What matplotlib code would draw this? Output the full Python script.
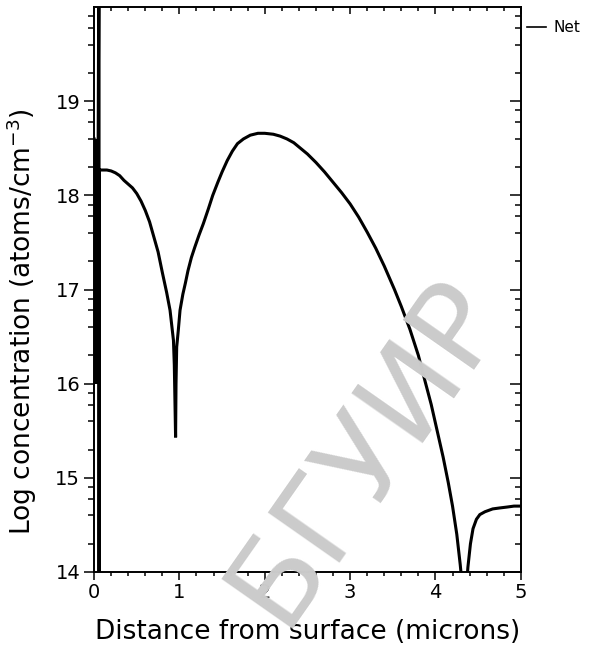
import matplotlib
matplotlib.use("Agg")
import matplotlib.pyplot as plt
from matplotlib.lines import Line2D
import numpy as np

plt.rcParams['font.family'] = ['DejaVu Sans']

# Net doping profile: depth (microns) vs log10 concentration
depth = [0.000, 0.012, 0.024, 0.036, 0.048, 0.058, 0.058, 0.060,
         0.10, 0.15, 0.20, 0.25, 0.30, 0.35, 0.40, 0.45, 0.50, 0.55,
         0.60, 0.65, 0.70, 0.75, 0.80, 0.85, 0.89, 0.93,
         0.940, 0.955, 0.960, 0.968, 0.987, 1.007, 1.04, 1.07, 1.10,
         1.14, 1.18, 1.23, 1.28, 1.34, 1.39, 1.45, 1.50, 1.56, 1.62,
         1.68, 1.75, 1.83, 1.92, 2.00, 2.10, 2.18, 2.26, 2.34, 2.42,
         2.50, 2.60, 2.70, 2.80, 2.90, 3.00, 3.10, 3.20, 3.30, 3.40,
         3.52, 3.60, 3.70, 3.80, 3.88, 3.95, 4.02, 4.09, 4.15, 4.20,
         4.25, 4.29, 4.32, 4.36, 4.38, 4.41, 4.44, 4.48, 4.52, 4.58,
         4.67, 4.75, 4.84, 4.92, 5.00]
log_conc = [18.60, 16.00, 18.60, 16.00, 18.60, 21.0, 13.0, 18.27,
            18.27, 18.27, 18.26, 18.24, 18.21, 18.16, 18.12, 18.08, 18.02, 17.94,
            17.84, 17.72, 17.56, 17.40, 17.18, 16.97, 16.78, 16.46,
            16.20, 15.43, 16.00, 16.39, 16.57, 16.78, 16.95, 17.07, 17.20,
            17.34, 17.45, 17.58, 17.70, 17.86, 18.00, 18.14, 18.25, 18.37, 18.47,
            18.55, 18.60, 18.64, 18.66, 18.66, 18.65, 18.63, 18.60, 18.56, 18.50,
            18.44, 18.35, 18.25, 18.14, 18.03, 17.91, 17.77, 17.61, 17.44, 17.25,
            17.00, 16.82, 16.58, 16.30, 16.02, 15.78, 15.50, 15.22, 14.95, 14.70,
            14.40, 14.08, 13.80, 13.80, 14.05, 14.30, 14.46, 14.56, 14.61, 14.64,
            14.67, 14.68, 14.69, 14.70, 14.70]

x_major = [0, 1, 2, 3, 4, 5]
y_major = [14, 15, 16, 17, 18, 19]
x_labels = ['0', '1', '2', '3', '4', '5']
y_labels = ['14', '15', '16', '17', '18', '19']
series_name = 'Net'

fig = plt.figure(figsize=(6.07, 6.5), dpi=100)
fig.patch.set_facecolor('white')

# faint background lettering
fig.text(0.463, 0.033, 'БГУИР', rotation=55, rotation_mode='anchor',
         ha='left', va='baseline', fontsize=86, color='#cbcbcb', zorder=0)

ax = fig.add_axes([0.155, 0.12, 0.703, 0.869])
ax.set_facecolor('none')
ax.plot(depth, log_conc, color='black', lw=2.2, solid_joinstyle='miter',
        clip_on=True, zorder=3)

ax.set_xlim(0, 5)
ax.set_ylim(14, 20)

x_minor = [i * 0.2 for i in range(26) if i % 5]
y_minor = [d + np.log10(k) for d in range(14, 20) for k in (2, 4, 6, 8)]

ax.set_xticks(x_major)
ax.set_xticklabels(x_labels)
ax.set_yticks(y_major)
ax.set_yticklabels(y_labels)
ax.set_xticks(x_minor, minor=True)
ax.set_yticks(y_minor, minor=True)

ax.tick_params(axis='y', which='major', direction='out', length=7, width=1.1,
               labelsize=14, pad=3)
ax.tick_params(axis='y', which='minor', direction='out', length=4, width=1.1)
ax.tick_params(axis='x', which='major', direction='out', length=6, width=1.1,
               labelsize=14, pad=2)
ax.tick_params(axis='x', which='minor', direction='out', length=3, width=1.1)

for s in ax.spines.values():
    s.set_linewidth(1.4)

# right side ticks point inward
axr = ax.twinx()
axr.set_ylim(14, 20)
axr.set_yticks(y_major)
axr.set_yticks(y_minor, minor=True)
axr.tick_params(axis='y', which='major', direction='in', length=8, width=1.1,
                labelright=False)
axr.tick_params(axis='y', which='minor', direction='in', length=4, width=1.1)
axr.spines[:].set_visible(False)

# top side ticks point inward
axt = ax.twiny()
axt.set_xlim(0, 5)
axt.set_xticks(x_major)
axt.set_xticks(x_minor, minor=True)
axt.tick_params(axis='x', which='major', direction='in', length=5, width=1.1,
                labeltop=False)
axt.tick_params(axis='x', which='minor', direction='in', length=3, width=1.1)
axt.spines[:].set_visible(False)

ax.set_xlabel('Distance from surface (microns)', fontsize=19, labelpad=12)
ax.set_ylabel('Log concentration (atoms/cm$^{-3}$)', fontsize=19)
ax.yaxis.set_label_coords(-0.128, 0.444)

handle = Line2D([], [], color='black', lw=1.2)
ax.legend([handle], [series_name], loc='upper left',
          bbox_to_anchor=(1.008, 0.982), frameon=False, fontsize=11,
          handlelength=1.2, handletextpad=0.5, borderaxespad=0.0,
          borderpad=0.2)

fig.savefig('out.png', dpi=100, facecolor='white')
